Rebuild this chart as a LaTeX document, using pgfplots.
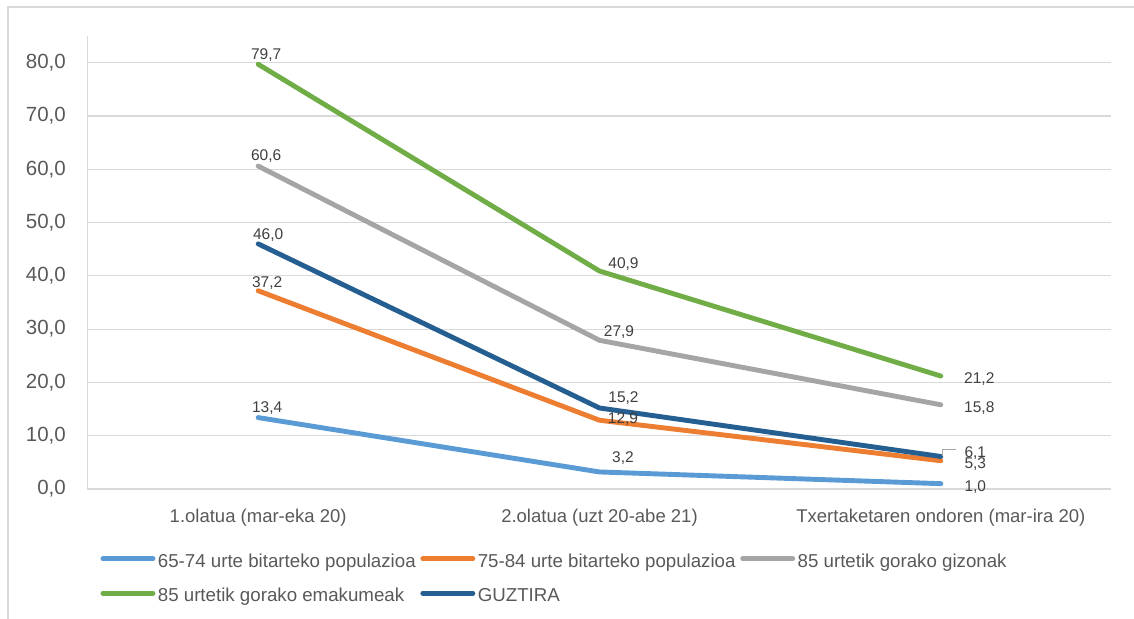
\documentclass[border=0pt]{standalone}
\usepackage{pgfplots}
\pgfplotsset{compat=1.18}
\usepackage{pgfplotstable}
\usepackage{fontspec}
\setmainfont{Liberation Sans}

\definecolor{serA}{HTML}{5B9BD5}
\definecolor{serB}{HTML}{ED7D31}
\definecolor{serC}{HTML}{A5A5A5}
\definecolor{serD}{HTML}{70AD47}
\definecolor{serE}{HTML}{255E91}
\definecolor{gridc}{HTML}{D9D9D9}
\definecolor{txt}{HTML}{595959}
\definecolor{lbl}{HTML}{404040}

% x = wave, y = value, dx/dy = label offset (bp) from the point
\pgfplotstableread{
x y dx dy
0 13.4 9 5.5
1 3.2 23.5 9
2 1.0 34.5 -7.8
}\tblA
\pgfplotstableread{
x y dx dy
0 37.2 9 3.5
1 12.9 23.5 -3.5
2 5.3 34.5 -7.4
}\tblB
\pgfplotstableread{
x y dx dy
0 60.6 8 6
1 27.9 19.5 3.5
2 15.8 38.5 -7.7
}\tblC
\pgfplotstableread{
x y dx dy
0 79.7 8 4.5
1 40.9 24 3
2 21.2 38.5 -7.5
}\tblD
\pgfplotstableread{
x y dx dy
0 46.0 10 4
1 15.2 24 5
2 6.1 34.5 -0.7
}\tblE

\pgfplotsset{
  serline/.style={line width=4.9bp, line cap=round, line join=round},
  vallabels/.style={
    draw=none, forget plot,
    point meta=y,
    nodes near coords={\pgfmathprintnumber[fixed,fixed zerofill,precision=1,use comma,assume math mode=true]{\pgfplotspointmeta}},
    visualization depends on={\thisrow{dx}\as\dx},
    visualization depends on={\thisrow{dy}\as\dy},
    every node near coord/.append style={anchor=base, inner sep=0pt,
      xshift=\dx bp, yshift=\dy bp,
      font=\fontsize{15.5bp}{18bp}\selectfont, text=lbl},
  },
}

\newcommand{\lgd}[1]{\hspace*{0.5bp}\makebox[260.5bp][l]{#1}}

\begin{document}
\begin{tikzpicture}
\useasboundingbox (-87.5bp,-130bp) rectangle (1046.5bp,489bp);
\begin{axis}[
  at={(0,0)}, anchor=south west,
  scale only axis, width=1024bp, height=453bp,
  xmin=-0.5, xmax=2.5, ymin=0, ymax=85,
  clip=false,
  axis x line=bottom, axis y line=left,
  axis line style={draw=gridc, line width=1.2bp, -},
  ytick={0,10,...,80},
  ymajorgrids, grid style={draw=gridc, line width=1.2bp},
  xtick={0,1,2},
  xticklabels={1.olatua (mar-eka 20), 2.olatua (uzt 20-abe 21), Txertaketaren ondoren (mar-ira 20)},
  major tick length=0pt,
  tick style={draw=none},
  yticklabel style={anchor=east, inner sep=0pt, xshift=-21.5bp,
    font=\fontsize{20.5bp}{24bp}\selectfont, text=txt,
    /pgf/number format/.cd, fixed, fixed zerofill, precision=1, use comma, assume math mode=true},
  xticklabel style={anchor=base, inner sep=0pt, yshift=-33bp,
    font=\fontsize{18.5bp}{22bp}\selectfont, text=txt},
  legend columns=3,
  legend style={at={(0,0)}, anchor=north west, xshift=13bp, yshift=-62.1bp,
    draw=none, fill=none, inner sep=0pt, outer sep=0pt,
    row sep=15bp, column sep=0pt,
    font=\fontsize{18.7bp}{22bp}\selectfont, text=txt,
    cells={anchor=west, inner sep=0pt, text height=14bp, text depth=5bp}},
  legend image code/.code={\draw (0bp,2.1bp) -- (50bp,2.1bp);},
]
\addplot[serline, serA] table[x=x,y=y] {\tblA};
\addlegendentry{\lgd{65-74 urte bitarteko populazioa}}
\addplot[serline, serB] table[x=x,y=y] {\tblB};
\addlegendentry{\lgd{75-84 urte bitarteko populazioa}}
\addplot[serline, serC] table[x=x,y=y] {\tblC};
\addlegendentry{\lgd{85 urtetik gorako gizonak}}
\addplot[serline, serD] table[x=x,y=y] {\tblD};
\addlegendentry{\lgd{85 urtetik gorako emakumeak}}
\addplot[serline, serE] table[x=x,y=y] {\tblE};
\addlegendentry{\lgd{GUZTIRA}}

% value labels, drawn above every line
\addplot[vallabels] table[x=x,y=y] {\tblA};
\addplot[vallabels] table[x=x,y=y] {\tblB};
\addplot[vallabels] table[x=x,y=y] {\tblC};
\addplot[vallabels] table[x=x,y=y] {\tblD};
\addplot[vallabels] table[x=x,y=y] {\tblE};

\coordinate (tot3) at (axis cs:2,6.1);
\end{axis}
% leader line of the 6,1 label
\draw[color=serC, line width=1bp] ([xshift=2bp]tot3) -- ([xshift=2bp,yshift=6.5bp]tot3) -- ([xshift=15.5bp,yshift=6.5bp]tot3);
% chart frame
\draw[gridc, line width=1.3bp] (-79.5bp,-131bp) -- (-79.5bp,482bp) -- (1047bp,482bp);
\end{tikzpicture}
\end{document}
